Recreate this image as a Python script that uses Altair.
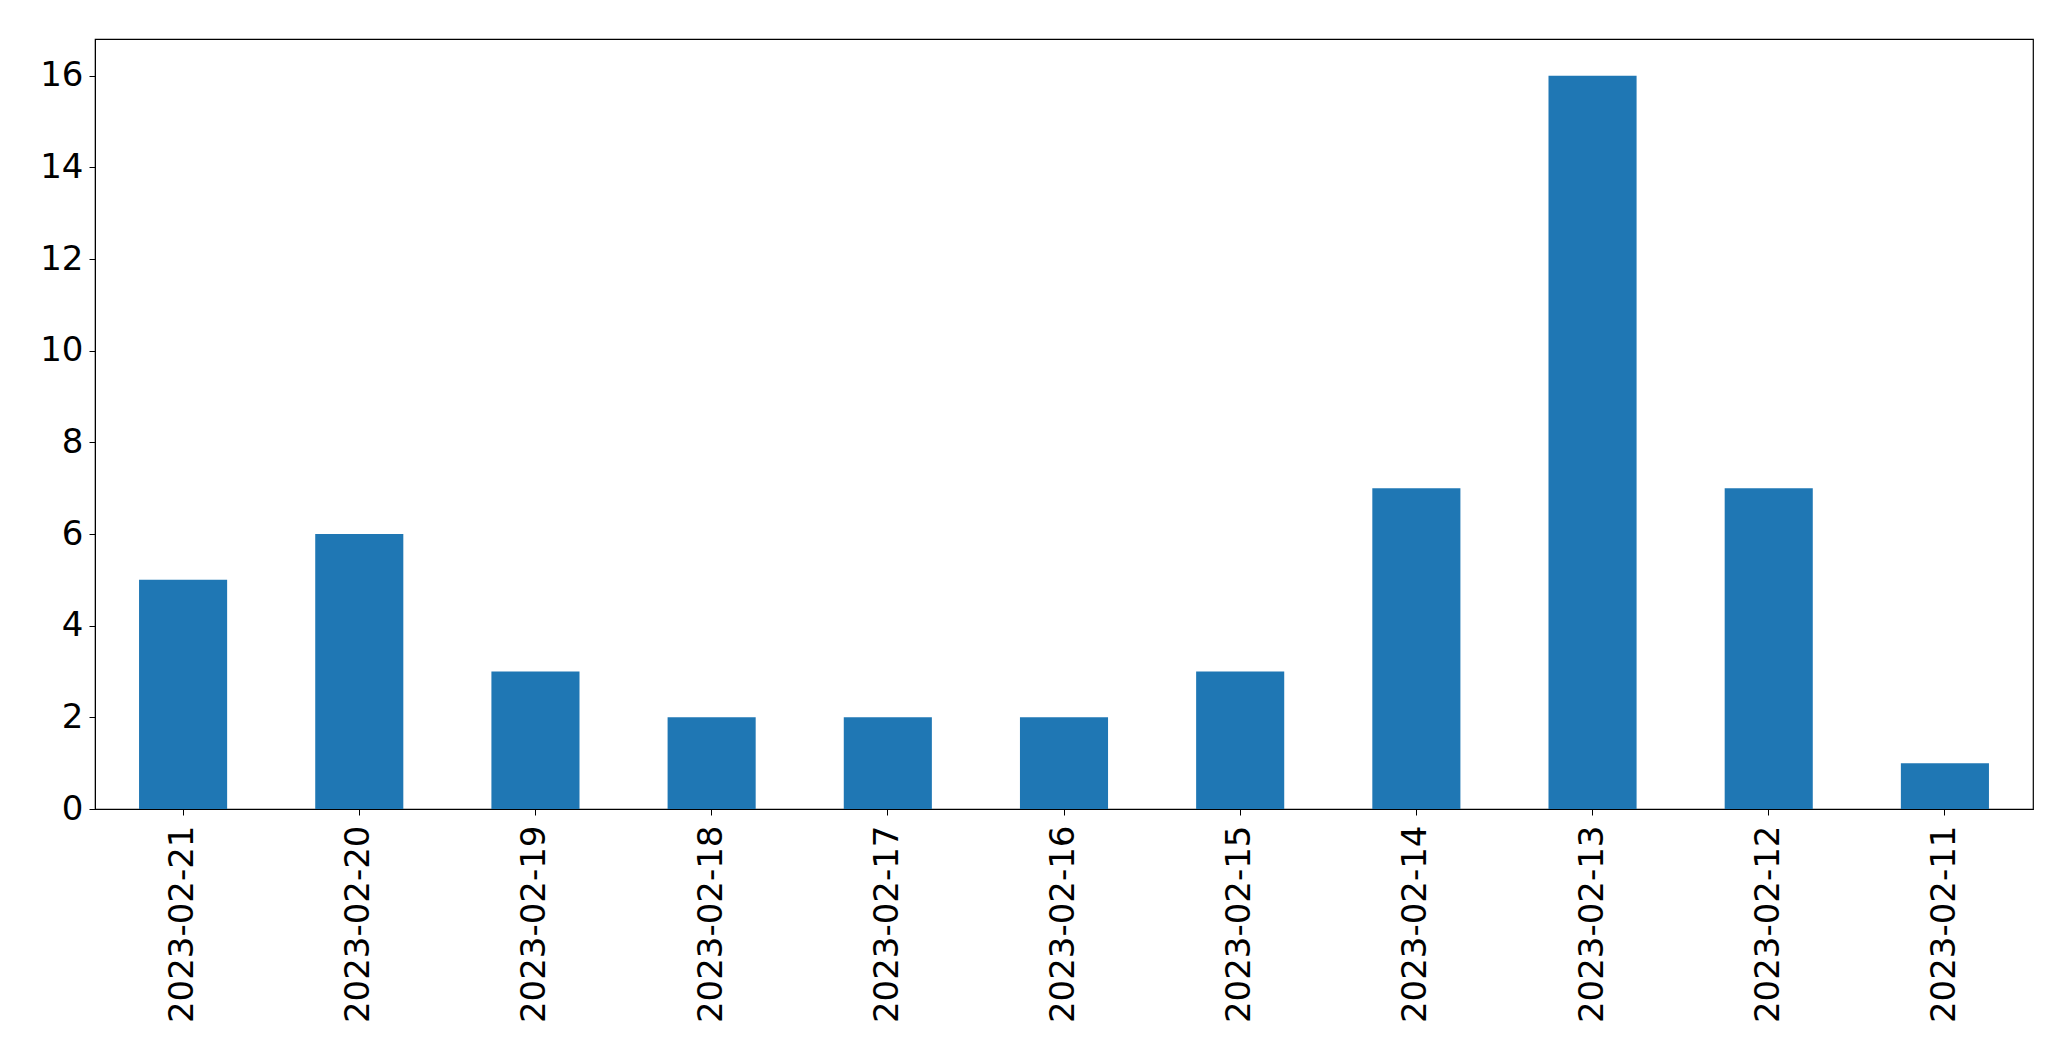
import altair as alt
import pandas as pd

dates = ["2023-02-21", "2023-02-20", "2023-02-19", "2023-02-18", "2023-02-17",
         "2023-02-16", "2023-02-15", "2023-02-14", "2023-02-13", "2023-02-12", "2023-02-11"]
counts = [5, 6, 3, 2, 2, 2, 3, 7, 16, 7, 1]

df = pd.DataFrame({"date": dates, "count": counts})

FONT = "DejaVu Sans"

chart = alt.Chart(df).mark_bar(color="#1f77b4").encode(
    x=alt.X("date:N", sort=dates, title=None,
            scale=alt.Scale(paddingInner=0.5, paddingOuter=0.25),
            axis=alt.Axis(labelAngle=-90, labelFont=FONT, labelFontSize=34, labelLimit=0,
                          labelColor="black", tickColor="black", domainColor="black",
                          tickSize=6, labelPadding=10, tickWidth=1, domainWidth=1)),
    y=alt.Y("count:Q", title=None,
            scale=alt.Scale(domain=[0, 16.8], nice=False),
            axis=alt.Axis(values=[0, 2, 4, 6, 8, 10, 12, 14, 16], grid=False,
                          labelFont=FONT, labelFontSize=34, labelColor="black",
                          tickColor="black", domainColor="black", tickSize=6,
                          labelPadding=6, tickWidth=1, domainWidth=1)),
).properties(
    width=1938, height=770,
    autosize=alt.AutoSizeParams(type="none"),
    padding={"left": 95, "top": 39, "right": 38, "bottom": 252},
).configure_view(stroke="black", strokeWidth=1.2)

chart.save("out.html", embed_options={"renderer": "svg", "actions": False})
